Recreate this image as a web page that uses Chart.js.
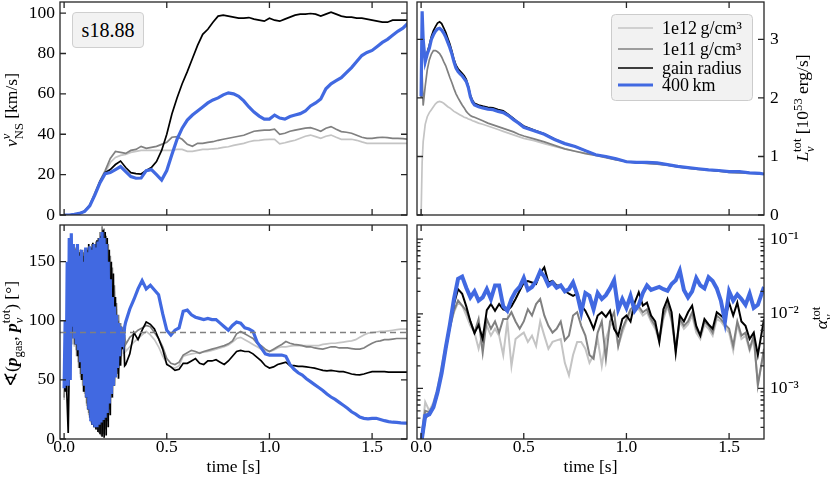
<!DOCTYPE html>
<html>
<head>
<meta charset="utf-8">
<script src="https://cdn.jsdelivr.net/npm/chart.js@4.4.1/dist/chart.umd.min.js"></script>
<style>
  body { margin: 0; background: #fff; }
  #wrap { position: relative; width: 830px; height: 485px; overflow: hidden; font-family: 'Liberation Serif', serif; color: #000; }
  #wrap canvas { position: absolute; left: 0; top: 0; }
  .ylab { position: absolute; font-size: 17.5px; white-space: nowrap; line-height: 1; transform: translate(-50%, -50%) rotate(-90deg); }
  .ss { display: inline-flex; flex-direction: column; font-size: 0.72em; line-height: 1; vertical-align: 0.55em; }
  sub, sup { font-size: 0.72em; line-height: 0; }
  .tag { position: absolute; left: 72px; top: 12px; width: 72px; height: 36px; box-sizing: border-box;
         background: #f2f2f2; border: 1px solid #cfcfcf; border-radius: 4px;
         font-size: 20px; line-height: 34px; text-align: center; }
</style>
</head>
<body>
<div id="wrap">
  <canvas id="velChart" width="830" height="485"></canvas>
  <canvas id="lumChart" width="830" height="485"></canvas>
  <canvas id="angleChart" width="830" height="485"></canvas>
  <canvas id="alphaChart" width="830" height="485"></canvas>
  <div class="tag">s18.88</div>
  <div class="ylab" style="left:13px; top:110px;"><i>v</i><span class="ss"><span><i>ν</i></span><span>NS</span></span> [km/s]</div>
  <div class="ylab" style="left:804px; top:108px;"><i>L</i><span class="ss"><span>tot</span><span><i>ν</i></span></span> [10<sup>53</sup> erg/s]</div>
  <div class="ylab" style="left:13px; top:334px;">∢(<b><i>p</i></b><sub>gas</sub>, <b><i>p</i></b><span class="ss"><span>tot</span><span><i>ν</i></span></span>) [°]</div>
  <div class="ylab" style="left:823px; top:318px;"><i>α</i><span class="ss"><span>tot</span><span><i>ν</i></span></span></div>
</div>
<script>
// ---------------- series ----------------
const seriesNames = ["1e12\u2009g/cm³", "1e11\u2009g/cm³", "gain radius", "400\u2009km"];
const seriesColors = ["#c4c4c4", "#808080", "#000000", "#4169e1"];

const timeTicks = [0, 0.5, 1.0, 1.5];
const velTicks = [0, 20, 40, 60, 80, 100];
const lumTicks = [0, 1, 2, 3];
const angleTicks = [0, 50, 100, 150];
const alphaTicks = [1e-3, 1e-2, 1e-1];
const angleRef = 90;

//============================== NS VELOCITY ===========================
const velTime = [0,0.025,0.05,0.075,0.1,0.125,0.15,0.175,0.2,0.225,0.25,0.275,0.3,0.325,0.35,0.375,0.4,0.425,0.45,0.475,
  0.5,0.525,0.55,0.575,0.6,0.625,0.65,0.675,0.7,0.725,0.75,0.775,0.8,0.825,0.85,0.875,0.9,0.925,0.95,0.975,
  1.0,1.025,1.05,1.075,1.1,1.125,1.15,1.175,1.2,1.225,1.25,1.275,1.3,1.325,1.35,1.375,1.4,1.425,1.45,1.475,
  1.5,1.525,1.55,1.575,1.6,1.625,1.65,1.675];
const vel12 = [0,0,0.3,0.8,2,5,10.5,16.5,21,26,28.5,29.5,30,31,31.5,32,32,32,32,32,
  32,32,32.5,32.5,31.5,31.5,32,32.5,32.5,32.8,33,33.5,33.8,34.5,35,35.5,36.3,36.8,37,37.3,
  37.5,37.5,35.2,35.8,36.5,37,38,39,39.6,38.8,38,39,39.6,38.5,37.5,37.5,37.5,37,36.2,35.5,
  35.5,35.5,35.5,35.5,35.5,35.5,35.5,35.5];
const vel11 = [0,0,0.3,0.8,2,5,11,17,22,28,31.5,31,30.5,32,32.5,34,33,33.5,34,35,
  36,38.5,38.8,37.5,35,34,35.5,35.5,36,36.3,37,37.5,38,38.5,39,39.5,40.5,41.5,41.8,42,
  42,42.5,40,40.5,41.5,42,42.5,43,43.3,42.5,41.5,43,43.8,42.5,41.3,41,40.5,39.5,38.5,38,
  38,38.3,38.5,38.3,38,38,37.8,37.5];
const velGain = [0,0,0.3,0.8,1.8,4.5,10,16.5,21,22.5,25,26.7,23.5,21,20.5,20.3,22,23.5,26.5,32,
  40,50,58,65,71,77.5,84,89.5,92,95.5,98.5,99,98.5,98,97.5,97.5,97.8,97,96.5,96,
  97.5,96.5,96,97,98,99,99.5,99.5,99.8,99.5,98.5,99.5,100.5,99.5,98.5,98,98,97.5,97.5,97,
  96.5,96,95.5,95.5,96.5,96.5,96.5,96.5];
const vel400 = [0,0,0.3,0.8,1.8,4.5,10,16,20.5,21,22.5,24,21.5,19,18.2,18.3,22,22.5,20,17.3,
  22,30,37.5,43,47,49.5,51.5,53.5,55.5,57,58,59.5,60.5,60,58.8,56.5,53.5,51,49,47.5,
  47.5,49.5,48,47.5,48.8,49.5,50.2,51.5,54,55.5,57.5,62.5,65,66.5,68,70.5,73,76,79,80.5,
  81.5,83.5,85.5,87,89,91,92.5,95];

//============================== LUMINOSITY ===========================
const lumTime = [0,0.005,0.01,0.02,0.03,0.04,0.05,0.06,0.07,0.08,0.09,0.1,0.11,0.12,0.13,0.14,0.15,0.16,0.17,0.18,
  0.19,0.2,0.21,0.22,0.23,0.24,0.25,0.26,0.28,0.3,0.325,0.35,0.375,0.4,0.425,0.45,0.475,0.5,
  0.55,0.6,0.65,0.7,0.75,0.8,0.85,0.9,0.95,1.0,1.05,1.1,1.15,1.2,1.25,1.3,1.35,1.4,1.45,1.5,1.55,1.6,1.65,1.67];
const lum12 = [0,0.9,1.25,1.55,1.68,1.75,1.8,1.85,1.9,1.93,1.94,1.93,1.91,1.88,1.85,1.83,1.8,1.77,1.75,1.73,
  1.71,1.69,1.67,1.66,1.64,1.63,1.61,1.6,1.57,1.55,1.52,1.49,1.46,1.43,1.4,1.37,1.34,1.31,
  1.27,1.22,1.17,1.13,1.09,1.06,1.03,0.99,0.95,0.92,0.9,0.88,0.87,0.85,0.82,0.8,0.78,0.77,0.75,0.73,0.72,0.71,0.7,0.7];
const lum11 = [2.0,2.4,1.87,2.2,2.48,2.65,2.75,2.81,2.81,2.79,2.76,2.7,2.62,2.55,2.45,2.35,2.26,2.16,2.07,2.0,
  1.94,1.88,1.83,1.77,1.73,1.7,1.68,1.67,1.64,1.61,1.57,1.54,1.51,1.48,1.45,1.42,1.38,1.35,
  1.3,1.25,1.19,1.13,1.09,1.05,1.02,0.98,0.94,0.91,0.89,0.88,0.87,0.85,0.82,0.8,0.78,0.77,0.75,0.73,0.72,0.72,0.71,0.7];
const lumGain = [2.03,3.4,2.95,2.62,2.78,2.9,3.05,3.15,3.22,3.28,3.3,3.27,3.2,3.12,3.02,2.92,2.8,2.66,2.56,2.5,
  2.46,2.42,2.38,2.32,2.2,2.05,1.96,1.91,1.88,1.86,1.84,1.83,1.8,1.78,1.72,1.65,1.58,1.52,
  1.45,1.39,1.3,1.22,1.17,1.1,1.03,1.0,0.96,0.91,0.9,0.9,0.89,0.86,0.83,0.81,0.79,0.77,0.76,0.74,0.74,0.72,0.71,0.7];
const lum400 = [2.03,3.48,3.0,2.62,2.75,2.85,3.0,3.08,3.14,3.18,3.19,3.16,3.11,3.04,2.95,2.86,2.75,2.62,2.51,2.45,
  2.41,2.38,2.33,2.28,2.18,2.02,1.93,1.88,1.85,1.83,1.81,1.8,1.77,1.75,1.7,1.63,1.57,1.5,
  1.44,1.38,1.29,1.22,1.17,1.1,1.03,1.0,0.96,0.91,0.9,0.9,0.89,0.86,0.83,0.81,0.79,0.77,0.76,0.74,0.74,0.72,0.71,0.7];

//============================== ANGLE ===========================
const angleTime = [0,0.005,0.01,0.015,0.02,0.025,0.03,0.035,0.04,0.045,0.05,0.055,0.06,0.065,0.07,0.075,0.08,0.085,0.09,0.095,
  0.1,0.105,0.11,0.115,0.12,0.125,0.13,0.135,0.14,0.145,0.15,0.155,0.16,0.165,0.17,0.175,0.18,0.185,0.19,0.195,
  0.2,0.205,0.21,0.215,0.22,0.225,0.23,0.235,0.24,0.245,0.25,0.255,0.26,0.265,0.27,0.275,0.28,0.285,0.29,0.295,0.3,
  0.32,0.34,0.36,0.38,0.4,0.42,0.44,0.46,0.48,0.5,0.52,0.54,0.56,0.58,0.6,0.62,0.64,0.66,0.68,0.7,
  0.72,0.74,0.76,0.78,0.8,0.82,0.84,0.86,0.88,0.9,0.92,0.94,0.96,0.98,1.0,1.02,1.04,1.06,1.08,1.1,
  1.12,1.14,1.16,1.18,1.2,1.22,1.24,1.26,1.28,1.3,1.32,1.34,1.36,1.38,1.4,1.42,1.44,1.46,1.48,1.5,
  1.52,1.54,1.56,1.58,1.6,1.62,1.64,1.66,1.68];
const angle12 = [33,55,40,100,45,140,65,155,80,150,78,155,70,150,60,152,52,150,45,155,
  38,155,28,158,20,158,14,160,12,160,10,163,9,165,7,170,5,172,6,170,
  10,165,18,158,28,150,42,140,55,125,60,110,62,100,66,92,70,88,72,84,74,
  78,82,85,88,91,88,84,78,70,64,61,60,62,70,71,72,72.5,73,73.5,74,
  75,76,77,78,79.6,82,85,86,84,82,80,78,76,75,74,75,77,78,78,78.5,
  79,79,79,79,79,79,79,80,80.5,81,81,81.5,82,82.5,83,84,86,88,89.5,90,
  90.5,91,91,91.5,92,92.5,93,93,93];
const angle11 = [35,60,45,110,40,150,70,160,85,158,80,160,75,155,65,158,55,152,50,158,
  40,160,30,162,22,160,15,165,12,163,10,167,8,170,5,175,3,180,4,178,
  8,172,15,165,25,155,40,145,55,130,60,115,65,105,70,98,75,92,78,88,80,
  86,89,92,94,96,95,90,85,78,68,64,63,65,71,73,75,74,72.5,74,75,
  76,77,78,79,80.5,83,89,91,89,87,85,81,79,76,74,76,78,80,82.5,81,
  80,79.6,79,78,78,77,76.5,76,77,78,78,77,77,77,76.5,76,76,77,79,81,
  82.5,83,84,84,84.5,85,85,85,85];
const angleGain = [50,40,55,30,5,60,150,85,165,90,160,80,162,70,158,60,160,50,155,40,
  160,35,160,25,165,18,162,12,166,10,165,8,168,6,170,4,172,2,177,1,
  175,3,170,10,160,20,150,35,140,45,120,55,100,51,90,62,95,76,85,62,63,
  72,90,84,92,99,97,93,85,76,63,61,58,59,64,64,66,68,64,63,66,
  66,67,65,63,66,70,74,75,74,74,72,69,66,62,60,61,63,64,65,62,
  62,61.5,61.5,61,60.5,60,59,58,57.6,58,57.5,57,57,56,55,54.5,54.2,55,56,57,
  57,57,57,56.5,56.5,56.5,56.5,56.5,56.5];
const angle400 = [43,100,45,150,45,170,50,174,95,165,85,160,80,165,75,155,65,160,55,150,
  45,162,35,158,25,163,15,160,12,165,10,162,10,167,12,170,14,175,16,170,
  18,165,22,150,30,135,38,120,45,112,52,105,60,98,70,95,78,92,85,95,99,
  110,118,127,134,127,130,126,122,106,92,88,92,94,108,109,105,103,102,101,102,
  101,101,98,95,92,96,99,98,94,93,91,82,77,72,71,71,71,71,70,63,
  59,56,54,51,48.5,46,43.5,41,38,35.5,33.5,31,28.5,26,23,21,18.5,17.5,17,17.5,
  17.5,16.5,15.5,14.7,14.2,14,13.6,13.5,13.3];

//============================== ALPHA ===========================
const alphaTime = [0,0.02,0.04,0.06,0.08,0.1,0.12,0.14,0.16,0.18,0.2,0.22,0.24,0.26,0.28,0.3,0.32,0.34,0.36,0.38,
  0.4,0.42,0.44,0.46,0.48,0.5,0.52,0.54,0.56,0.58,0.6,0.62,0.64,0.66,0.68,0.7,0.72,0.74,0.76,0.78,
  0.8,0.82,0.84,0.86,0.88,0.9,0.92,0.94,0.96,0.98,1.0,1.02,1.04,1.06,1.08,1.1,1.12,1.14,1.16,1.18,
  1.2,1.22,1.24,1.26,1.28,1.3,1.32,1.34,1.36,1.38,1.4,1.42,1.44,1.46,1.48,1.5,1.52,1.54,1.56,1.58,
  1.6,1.62,1.64,1.67];
const alpha12 = [0.0002,0.00066,0.0005,0.00065,0.001,0.002,0.0038,0.0066,0.0105,0.0141,
  0.0129,0.0095,0.0069,0.0056,0.0034,0.0056,0.0069,0.0051,0.0063,0.0051,
  0.0028,0.0079,0.002,0.0046,0.0051,0.0056,0.0042,0.0051,0.0037,0.0079,
  0.0051,0.0034,0.0042,0.0044,0.0046,0.0022,0.0015,0.0028,0.0042,0.0042,
  0.0034,0.0022,0.0028,0.0046,0.002,0.0046,0.0069,0.0079,0.0037,0.0056,
  0.0079,0.0105,0.0115,0.0115,0.0095,0.0105,0.0079,0.0063,0.0042,0.0085,
  0.0126,0.0079,0.0032,0.0079,0.0063,0.0072,0.0095,0.0056,0.0046,0.0072,
  0.0063,0.0051,0.0085,0.0079,0.0066,0.0056,0.0032,0.0072,0.0046,0.0051,
  0.0032,0.0046,0.0012,0.003];
const alpha11 = [0.00022,0.0005,0.00048,0.0006,0.0009,0.0018,0.0035,0.0065,0.011,0.0151,
  0.0129,0.011,0.0079,0.0056,0.0085,0.003,0.0085,0.0063,0.0079,0.0056,
  0.0085,0.0085,0.0105,0.0079,0.0063,0.0079,0.0115,0.0095,0.0135,0.0158,
  0.0095,0.0069,0.0056,0.0063,0.0079,0.0044,0.0051,0.0095,0.0105,0.0069,
  0.0051,0.0028,0.0025,0.0056,0.0079,0.0025,0.0079,0.0105,0.0037,0.0063,
  0.0085,0.0115,0.0129,0.0126,0.0105,0.0115,0.0085,0.0069,0.0046,0.0095,
  0.0135,0.0085,0.0034,0.0085,0.0069,0.0079,0.0105,0.0063,0.0051,0.0079,
  0.0069,0.0056,0.0095,0.0085,0.0072,0.0063,0.0037,0.0079,0.0051,0.0056,
  0.0034,0.0051,0.0011,0.0034];
const alphaGain = [0.00016,0.0004,0.00045,0.00055,0.00085,0.0016,0.0033,0.0068,0.0135,0.0214,
  0.0186,0.0126,0.0079,0.0055,0.0071,0.0046,0.0112,0.0135,0.011,0.0135,
  0.0115,0.011,0.0126,0.0158,0.0204,0.0263,0.0275,0.0263,0.0251,0.035,
  0.042,0.0263,0.0275,0.024,0.024,0.0204,0.0186,0.0174,0.0186,0.0129,
  0.011,0.0085,0.0063,0.0095,0.0105,0.0091,0.011,0.0063,0.0051,0.0085,
  0.0095,0.0079,0.0141,0.0195,0.0129,0.0141,0.0095,0.0079,0.0042,0.0115,
  0.0158,0.0105,0.003,0.0095,0.0079,0.0105,0.0129,0.0069,0.0051,0.0085,
  0.0072,0.0063,0.0105,0.0095,0.0085,0.0141,0.0095,0.0141,0.0079,0.0069,
  0.0046,0.0056,0.0028,0.0085];
const alpha400 = [0.00018,0.00043,0.00045,0.00056,0.00089,0.0016,0.0035,0.0071,0.0158,0.0295,
  0.0316,0.0224,0.0166,0.02,0.015,0.0166,0.0214,0.0158,0.024,0.024,
  0.0126,0.011,0.0158,0.02,0.0229,0.0302,0.0209,0.0229,0.0275,0.037,
  0.0316,0.024,0.0263,0.0224,0.024,0.02,0.0214,0.0263,0.0182,0.0105,
  0.019,0.0174,0.0115,0.019,0.0158,0.0178,0.0219,0.0282,0.0115,0.0158,
  0.012,0.0174,0.011,0.0132,0.019,0.024,0.0209,0.0219,0.0229,0.0214,
  0.0204,0.0251,0.0282,0.038,0.0209,0.0166,0.02,0.0302,0.024,0.0219,
  0.0309,0.0275,0.0219,0.015,0.0079,0.02,0.015,0.0182,0.0158,0.0132,
  0.0186,0.012,0.0132,0.0229];

// ---------------- drawing ----------------
Chart.defaults.font.family = "'Liberation Serif', serif";
Chart.defaults.font.size = 17.5;
Chart.defaults.color = "#000";

const T_MIN = -0.02, T_MAX = 1.67;
const SUP = {"-": "\u207b", "0": "\u2070", "1": "\u00b9", "2": "\u00b2", "3": "\u00b3", "4": "\u2074", "5": "\u2075"};

function makeSets(time, series, labelled, thin, thick) {
    return series.map((vals, i) => ({
        label: labelled ? seriesNames[i] : "",
        data: time.map((t, j) => ({x: t, y: vals[j]})),
        borderColor: seriesColors[i],
        borderWidth: i === 3 ? thick : thin,
        order: 4 - i,
        pointRadius: 0,
        fill: false
    }));
}

function fixSize(size) {
    return function (scale) {
        if (scale.isHorizontal()) scale.height = size; else scale.width = size;
        scale.paddingLeft = scale.paddingRight = scale.paddingTop = scale.paddingBottom = 0;
    };
}

// frame + inward ticks on all four sides
const frameTicks = {
    id: "frameTicks",
    afterDraw(chart) {
        const {ctx, chartArea: a} = chart;
        const x = chart.scales.x, y = chart.scales.y;
        ctx.save();
        ctx.strokeStyle = "#262626";
        ctx.lineWidth = 1.3;
        ctx.strokeRect(a.left, a.top, a.right - a.left, a.bottom - a.top);
        ctx.beginPath();
        x.ticks.forEach(t => {
            const p = x.getPixelForValue(t.value);
            ctx.moveTo(p, a.bottom); ctx.lineTo(p, a.bottom - 6);
            ctx.moveTo(p, a.top); ctx.lineTo(p, a.top + 6);
        });
        const yTick = (v, len) => {
            const p = y.getPixelForValue(v);
            if (p < a.top - 0.5 || p > a.bottom + 0.5) return;
            ctx.moveTo(a.left, p); ctx.lineTo(a.left + len, p);
            ctx.moveTo(a.right, p); ctx.lineTo(a.right - len, p);
        };
        y.ticks.forEach(t => yTick(t.value, 6));
        if (y.type === "logarithmic") {
            for (let e = Math.floor(Math.log10(y.min)); e < Math.ceil(Math.log10(y.max)); e++) {
                for (let k = 2; k < 10; k++) yTick(k * Math.pow(10, e), 3.5);
            }
        }
        ctx.stroke();
        ctx.restore();
    }
};

const legendBox = {
    id: "legendBox",
    afterDraw(chart) {
        const ctx = chart.ctx;
        const items = chart.data.datasets.filter(d => d.label);
        const rows = [28, 49, 68, 85];
        ctx.save();
        ctx.fillStyle = "#f2f2f2";
        ctx.strokeStyle = "#cccccc";
        ctx.lineWidth = 1;
        ctx.beginPath();
        ctx.roundRect(611.5, 14.5, 141, 86, 4);
        ctx.fill(); ctx.stroke();
        ctx.font = "18px 'Liberation Serif', serif";
        ctx.textBaseline = "middle";
        items.forEach((d, i) => {
            ctx.strokeStyle = d.borderColor;
            ctx.lineWidth = d.borderWidth;
            ctx.beginPath(); ctx.moveTo(618, rows[i]); ctx.lineTo(653, rows[i]); ctx.stroke();
            ctx.fillStyle = "#000";
            ctx.fillText(d.label, 662, rows[i] + 1);
        });
        ctx.restore();
    }
};

function panel(id, cfg) {
    return new Chart(document.getElementById(id), {
        type: "line",
        data: {datasets: cfg.datasets},
        options: {
            responsive: false,
            animation: false,
            events: [],
            layout: {padding: cfg.padding},
            elements: {line: {tension: 0}},
            plugins: {legend: {display: false}, tooltip: {enabled: false}},
            scales: {
                x: {
                    type: "linear", min: T_MIN, max: T_MAX,
                    grid: {display: false, drawTicks: false}, border: {display: false},
                    afterBuildTicks: s => { s.ticks = timeTicks.map(v => ({value: v})); },
                    afterFit: fixSize(cfg.bottom ? 46 : 0),
                    ticks: {display: cfg.bottom, padding: -2, maxRotation: 0, autoSkip: false,
                            callback: v => Number(v).toFixed(1)},
                    title: {display: cfg.bottom, text: "time [s]", padding: {top: 0, bottom: 7}}
                },
                y: Object.assign({
                    position: cfg.right ? "right" : "left",
                    grid: {display: false, drawTicks: false}, border: {display: false},
                    afterBuildTicks: s => { s.ticks = cfg.yTicks.map(v => ({value: v})); },
                    afterFit: fixSize(cfg.right ? 66 : 60)
                }, cfg.y)
            }
        },
        plugins: [frameTicks].concat(cfg.extra || [])
    });
}

panel("velChart", {
    padding: {left: 0, top: 2, right: 423, bottom: 270},
    bottom: false, right: false, yTicks: velTicks,
    y: {type: "linear", min: 0, max: 105.5, ticks: {padding: 5, autoSkip: false}},
    datasets: makeSets(velTime, [vel12, vel11, velGain, vel400], false, 1.7, 3.2)
});

panel("lumChart", {
    padding: {left: 417, top: 2, right: 0, bottom: 270},
    bottom: false, right: true, yTicks: lumTicks,
    y: {type: "linear", min: 0, max: 3.64, ticks: {padding: 6, autoSkip: false}},
    datasets: makeSets(lumTime, [lum12, lum11, lumGain, lum400], true, 1.7, 3.2),
    extra: [legendBox]
});

const angleSets = makeSets(angleTime, [angle12, angle11, angleGain, angle400], false, 1.7, 3.2);
angleSets.push({
    label: "",
    data: [{x: T_MIN, y: angleRef}, {x: T_MAX, y: angleRef}],
    borderColor: "#808080", borderWidth: 1.5, borderDash: [6, 4], order: 0, pointRadius: 0
});
panel("angleChart", {
    padding: {left: 0, top: 225, right: 423, bottom: 0},
    bottom: true, right: false, yTicks: angleTicks,
    y: {type: "linear", min: 0, max: 181, ticks: {padding: 5, autoSkip: false}},
    datasets: angleSets
});

panel("alphaChart", {
    padding: {left: 417, top: 225, right: 0, bottom: 0},
    bottom: true, right: true, yTicks: alphaTicks,
    y: {type: "logarithmic", min: 2.1e-4, max: 0.155,
        ticks: {padding: 6, autoSkip: false,
                callback: v => "10" + String(Math.round(Math.log10(v))).split("").map(c => SUP[c]).join("")}},
    datasets: makeSets(alphaTime, [alpha12, alpha11, alphaGain, alpha400], false, 2, 4)
});
</script>
</body>
</html>
